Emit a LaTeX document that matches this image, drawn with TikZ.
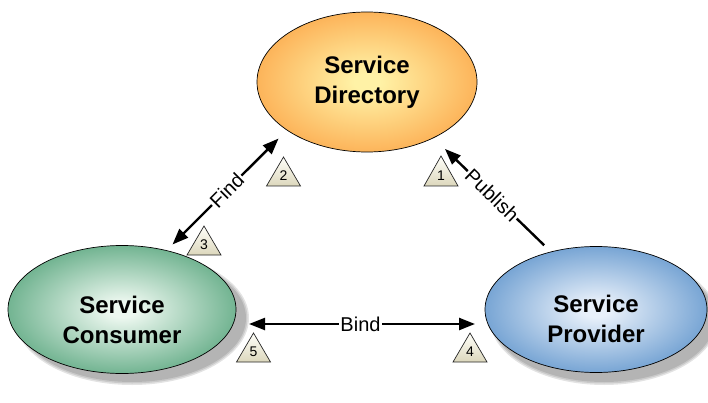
\documentclass[tikz,border=0pt]{standalone}
\usepackage{fontspec}
\setmainfont{Liberation Sans}
\usetikzlibrary{arrows.meta,shapes.geometric}

\definecolor{dirIn}{HTML}{FFF2A6}
\definecolor{dirOut}{HTML}{FB9534}
\definecolor{conIn}{HTML}{EDF8F0}
\definecolor{conOut}{HTML}{2A8C5A}
\definecolor{provIn}{HTML}{E8F0FA}
\definecolor{provOut}{HTML}{3679BE}
\definecolor{triTop}{HTML}{FFFFFA}
\definecolor{triBot}{HTML}{DCD7BC}

\pgfdeclareradialshading{dirshade}{\pgfpoint{0bp}{0bp}}%
  {color(0bp)=(dirIn); color(3bp)=(dirIn); color(36bp)=(dirOut); color(60bp)=(dirOut)}
\pgfdeclareradialshading{conshade}{\pgfpoint{0bp}{0bp}}%
  {color(0bp)=(conIn); color(3bp)=(conIn); color(38bp)=(conOut); color(60bp)=(conOut)}
\pgfdeclareradialshading{provshade}{\pgfpoint{0bp}{0bp}}%
  {color(0bp)=(provIn); color(3bp)=(provIn); color(38bp)=(provOut); color(60bp)=(provOut)}

\tikzset{
  orb/.style={ellipse, draw=black, line width=0.7pt, outer sep=0pt, inner sep=0pt, shade},
  title/.style={font=\bfseries\fontsize{24}{30}\selectfont, align=center, inner sep=0pt},
  conn/.style={line width=2.4pt, arrows={-{Triangle[length=16pt,width=12pt]}}},
  bothconn/.style={line width=2.4pt, arrows={{Triangle[length=16pt,width=12pt]}-{Triangle[length=16pt,width=12pt]}}},
  lab/.style={font=\fontsize{20}{20}\selectfont, fill=white, inner sep=1.2pt},
  tri/.style={draw=black!85, line width=0.7pt, top color=triTop, bottom color=triBot},
  num/.style={font=\fontsize{14}{14}\selectfont, inner sep=0pt},
}

\begin{document}
\begin{tikzpicture}[x=1pt, y=1pt]
\useasboundingbox (0,0) rectangle (708,-403);
\clip (0,0) rectangle (708,-403);

% soft drop shadows under the two lower ellipses
\foreach \cx/\cy/\rx/\ry in {132/-318/114/64, 604/-319/111/63}{
  \foreach \g in {3,1.5,0}{
    \fill[black, opacity=0.11] (\cx,\cy) ellipse [x radius=\rx pt+\g pt, y radius=\ry pt+\g pt];
  }
}

% the three parties
\node[orb, minimum width=220pt, minimum height=140pt, shading=dirshade] (dir) at (367,-82) {};
\node[orb, minimum width=228pt, minimum height=128pt, shading=conshade] (con) at (122,-309.5) {};
\node[orb, minimum width=222pt, minimum height=126pt, shading=provshade] (prov) at (596,-309.5) {};

\node[title] (dirT) at (367,-82) {Service\\Directory};
\node[title] (conT) at (122,-319.5) {Service\\Consumer};
\node[title] (provT) at (596,-318.5) {Service\\Provider};

% interactions
\draw[bothconn, shorten <=8.6pt, shorten >=12pt] (con.53.4) -- (dir.211.4)
  node[lab, midway, sloped] (findL) {Find};
\draw[conn, shorten <=9.5pt, shorten >=16pt] (prov.128.1) -- (dir.320.1)
  node[lab, midway, sloped] (pubL) {Publish};
\draw[bothconn, shorten <=13pt, shorten >=10pt] ([yshift=-14.5pt]con.east) -- ([yshift=-14.5pt]prov.west)
  node[lab, midway] (bindL) {Bind};

% numbered step markers
\foreach \n/\x/\ya/\yb in {1/441/156/186, 2/283.5/157/186, 3/204/226/255, 4/470/333/362, 5/253.5/333/362}{
  \draw[tri] (\x-17,-\yb) -- (\x,-\ya) -- (\x+17,-\yb) -- cycle;
  \node[num] (t\n) at (\x,-\yb+10) {\n};
}
\end{tikzpicture}
\end{document}
